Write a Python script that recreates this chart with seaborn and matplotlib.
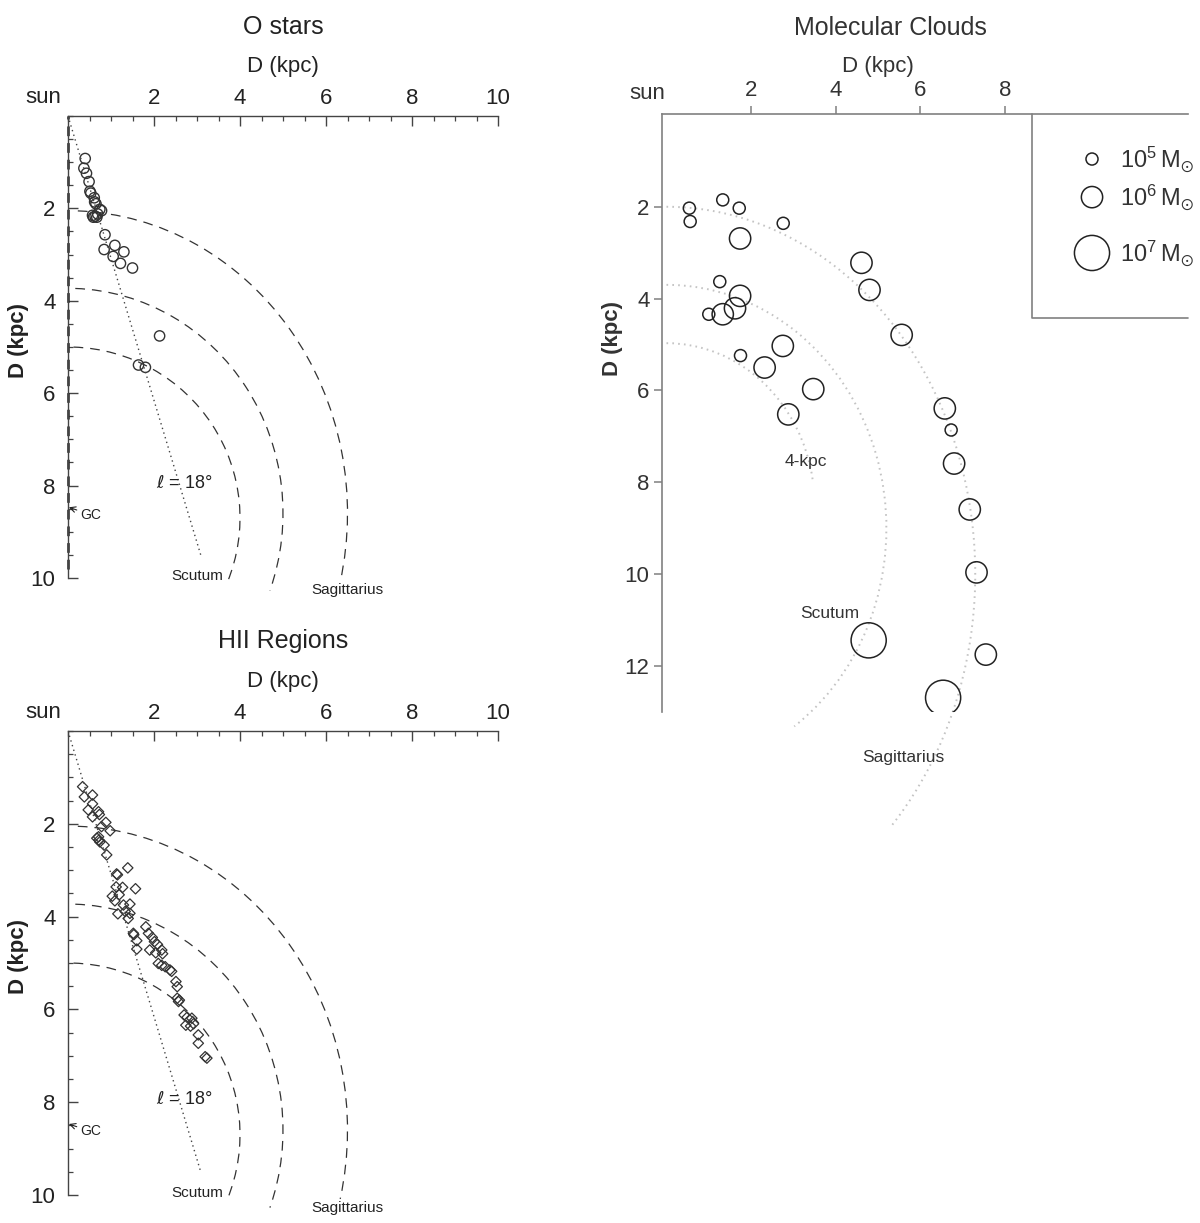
import numpy as np
import pandas as pd
import matplotlib
matplotlib.use('Agg')
import matplotlib.pyplot as plt
from matplotlib.patches import Arc
from matplotlib.ticker import MultipleLocator
import seaborn as sns

# positions (kpc): x = distance projetee, y = distance D
ostar_x = [0.40, 0.37, 0.43, 0.49, 0.51, 0.53, 0.61, 0.65, 0.62, 0.74, 0.78, 0.57, 0.63,
           0.67, 0.59, 0.69, 0.86, 0.84, 1.09, 1.30, 1.05, 1.22, 1.50, 2.13, 1.64, 1.80]
ostar_y = [0.92, 1.13, 1.24, 1.42, 1.63, 1.67, 1.77, 1.90, 1.86, 2.02, 2.05, 2.15, 2.17,
           2.19, 2.19, 2.12, 2.57, 2.89, 2.80, 2.94, 3.04, 3.19, 3.29, 4.76, 5.39, 5.44]

hii_x = [0.34, 0.38, 0.57, 0.57, 0.47, 0.71, 0.73, 0.57, 0.88, 0.78, 0.98, 0.67, 0.72, 0.71,
         0.74, 0.84, 0.90, 1.13, 1.15, 1.39, 1.12, 1.27, 1.57, 1.03, 1.19, 1.09, 1.29, 1.44,
         1.16, 1.33, 1.44, 1.40, 1.52, 1.53, 1.60, 1.60, 1.81, 1.87, 1.96, 2.01, 1.90, 2.08,
         2.18, 2.04, 2.20, 2.10, 2.18, 2.26, 2.37, 2.41, 2.51, 2.54, 2.54, 2.59, 2.57, 2.70,
         2.77, 2.88, 2.74, 2.85, 2.92, 3.03, 3.03, 3.19, 3.23]
hii_y = [1.20, 1.42, 1.38, 1.57, 1.70, 1.74, 1.80, 1.85, 1.97, 2.06, 2.15, 2.31, 2.35, 2.28,
         2.39, 2.46, 2.67, 3.08, 3.10, 2.95, 3.36, 3.37, 3.40, 3.56, 3.53, 3.66, 3.75, 3.73,
         3.94, 3.89, 3.93, 4.04, 4.36, 4.39, 4.52, 4.70, 4.22, 4.36, 4.45, 4.54, 4.72, 4.60,
         4.72, 4.78, 4.80, 5.01, 5.05, 5.08, 5.15, 5.18, 5.40, 5.51, 5.76, 5.80, 5.83, 6.12,
         6.17, 6.19, 6.34, 6.36, 6.31, 6.55, 6.73, 7.02, 7.05]

mc_x = [0.54, 0.56, 1.33, 1.72, 2.76, 1.74, 4.61, 4.80, 5.56, 1.26, 1.74, 1.62, 1.33, 1.00,
        2.75, 1.75, 2.32, 3.47, 2.88, 6.58, 6.73, 6.80, 7.17, 7.33, 4.78, 7.55, 6.54]
mc_y = [2.03, 2.32, 1.85, 2.03, 2.36, 2.69, 3.22, 3.81, 4.79, 3.63, 3.94, 4.21, 4.34, 4.34,
        5.03, 5.24, 5.50, 5.97, 6.52, 6.39, 6.86, 7.59, 8.59, 9.96, 11.44, 11.75, 12.69]
mc_logm = [5, 5, 5, 5, 5, 6, 6, 6, 6, 5, 6, 6, 6, 5,
           6, 5, 6, 6, 6, 6, 5, 6, 6, 6, 7, 6, 7]

legend_logm = [5, 6, 7]
mc_sizes = {5: 75, 6: 235, 7: 640}

# bras spiraux (ellipses centrees sur l'axe x=0): centre y, rx, ry, theta1, theta2
arm_c = [8.7, 8.6, 8.6]
arm_rx = [4.0, 5.0, 6.5]
arm_ry = [3.7, 4.87, 6.55]
arm_t1 = [-88, -88, -88]
arm_t2 = [20.6, 19.6, 13.2]

mc_arm_c = [8.5, 9.0, 10.0]
mc_arm_rx = [3.5, 5.2, 7.3]
mc_arm_ry = [3.53, 5.3, 8.0]
mc_arm_t1 = [-90, -90, -90]
mc_arm_t2 = [-9, 55, 46]

los_l = 18.0
los_d = np.array([0.0, 10.0])

sns.set_style('white')
plt.rcParams['font.family'] = ['Liberation Sans', 'DejaVu Sans']
plt.rcParams['mathtext.default'] = 'regular'
plt.rcParams['lines.scale_dashes'] = False

fig = plt.figure(figsize=(12, 12.23), dpi=100)

dark = '#333333'


def setup_lb_axes(ax, title):
    # axes en haut et a gauche, y inverse
    ax.set_xlim(0, 10)
    ax.set_ylim(10, 0)
    for s in ['right', 'bottom']:
        ax.spines[s].set_visible(False)
    for s in ['left', 'top']:
        ax.spines[s].set_color('#444444')
        ax.spines[s].set_linewidth(1.0)
    ax.xaxis.tick_top()
    ax.set_xticks([2, 4, 6, 8, 10])
    ax.set_yticks([2, 4, 6, 8, 10])
    ax.xaxis.set_minor_locator(MultipleLocator(0.5))
    ax.yaxis.set_minor_locator(MultipleLocator(0.5))
    ax.tick_params(which='both', direction='in', top=True, bottom=False, left=True, right=False,
                   color='#444444', labelcolor='#222222', labelsize=16)
    ax.tick_params(which='major', length=7, width=1.0)
    ax.tick_params(which='minor', length=3.5, width=0.9)
    ax.tick_params(axis='x', pad=5)
    ax.tick_params(axis='y', pad=9)
    ax.text(0.5, 1.193, title, transform=ax.transAxes, ha='center', va='center', fontsize=18, color='#222222')
    ax.text(0.5, 1.107, 'D (kpc)', transform=ax.transAxes, ha='center', va='center', fontsize=16, color='#222222')
    ax.text(-0.15, 1.04, 'sun', transform=ax.get_xaxis_transform(), ha='right', va='center',
            fontsize=16, color='#222222')

    # bras spiraux
    for c, rx, ry, t1, t2 in zip(arm_c, arm_rx, arm_ry, arm_t1, arm_t2):
        ax.add_patch(Arc((0, c), 2 * rx, 2 * ry, theta1=t1, theta2=t2, ls=(0, (7, 5)),
                         lw=0.9, color='#333333', clip_on=False))
    # ligne de visee l = 18 deg
    ax.plot(los_d * np.sin(np.deg2rad(los_l)), los_d * np.cos(np.deg2rad(los_l)),
            ls=(0, (1, 2.5)), lw=1.0, color='#444444')
    ax.text(2.7, 7.95, r'$\mathit{\ell}$ = 18°', ha='center', va='center', fontsize=13, color='#222222')
    ax.text(3.0, 9.95, 'Scutum', ha='center', va='center', fontsize=11, color='#222222')
    ax.text(6.5, 10.27, 'Sagittarius', ha='center', va='center', fontsize=11, color='#222222')
    ax.annotate('GC', xy=(0.02, 8.47), xytext=(0.28, 8.63), ha='left', va='center', fontsize=10,
                color='#222222', arrowprops=dict(arrowstyle='->', lw=0.8, color='#222222',
                                                 shrinkA=0, shrinkB=0))


def finish_labels(ax):
    ax.set_xlabel('')
    ax.set_ylabel('D (kpc)', fontsize=16, fontweight='bold', color='#222222')
    ax.yaxis.set_label_coords(-0.09, 0.514)


# O stars
ax1 = fig.add_axes([68 / 1200, 1 - 578 / 1223, 430 / 1200, 462 / 1223])
setup_lb_axes(ax1, 'O stars')
ax1.axvline(0, ymin=0.02, ymax=1.0, ls=(0, (7, 5)), lw=1.8, color='#222222', clip_on=False)
df_o = pd.DataFrame({'x': ostar_x, 'D': ostar_y})
sns.scatterplot(data=df_o, x='x', y='D', ax=ax1, marker='o', s=55, color=dark,
                facecolor='none', edgecolor=dark, linewidth=1.0)
finish_labels(ax1)

# HII regions
ax2 = fig.add_axes([68 / 1200, 1 - 1195 / 1223, 430 / 1200, 464 / 1223])
setup_lb_axes(ax2, 'HII Regions')
df_h = pd.DataFrame({'x': hii_x, 'D': hii_y})
sns.scatterplot(data=df_h, x='x', y='D', ax=ax2, marker='D', s=28, color=dark,
                facecolor='none', edgecolor=dark, linewidth=0.9)
finish_labels(ax2)

# Molecular clouds
ax3 = fig.add_axes([662 / 1200, 1 - 712 / 1223, 526 / 1200, 598 / 1223])
ax3.set_xlim(-0.106, 12.33)
ax3.set_ylim(13.0, -0.02)
gray = '#808080'
for s in ['right', 'bottom']:
    ax3.spines[s].set_visible(False)
for s in ['left', 'top']:
    ax3.spines[s].set_color(gray)
    ax3.spines[s].set_linewidth(1.2)
ax3.xaxis.tick_top()
ax3.set_xticks([2, 4, 6, 8])
ax3.set_yticks([2, 4, 6, 8, 10, 12])
ax3.tick_params(direction='out', top=True, bottom=False, left=True, right=False, length=6,
                width=1.1, color=gray, labelcolor='#333333', labelsize=16, pad=3)

for c, rx, ry, t1, t2 in zip(mc_arm_c, mc_arm_rx, mc_arm_ry, mc_arm_t1, mc_arm_t2):
    ax3.add_patch(Arc((0, c), 2 * rx, 2 * ry, theta1=t1, theta2=t2, ls=(0, (1.2, 3)),
                      lw=1.4, color='#c4c4c4', clip_on=False))

df_mc = pd.DataFrame({'x': mc_x, 'D': mc_y, 'logM': mc_logm})
sns.scatterplot(data=df_mc, x='x', y='D', size='logM', sizes=mc_sizes, ax=ax3, legend=False,
                marker='o', color='#222222', facecolor='none', edgecolor='#222222', linewidth=1.1)
ax3.set_xlabel('')
ax3.set_ylabel('D (kpc)', fontsize=16, fontweight='bold', color='#333333')
ax3.yaxis.set_label_coords(-0.074, 0.625)

ax3.text(0.435, 1.144, 'Molecular Clouds', transform=ax3.transAxes, ha='center', va='center',
         fontsize=18, color='#333333')
ax3.text(0.41, 1.079, 'D (kpc)', transform=ax3.transAxes, ha='center', va='center',
         fontsize=16, color='#333333')
ax3.text(-0.03, 1.034, 'sun', transform=ax3.get_xaxis_transform(), ha='right', va='center',
         fontsize=16, color='#333333')
ax3.text(3.3, 7.54, '4-kpc', ha='center', va='center', fontsize=12.5, color='#333333')
ax3.text(3.86, 10.85, 'Scutum', ha='center', va='center', fontsize=12.5, color='#333333')
ax3.text(5.6, 13.99, 'Sagittarius', ha='center', va='center', fontsize=12.5, color='#333333',
         clip_on=False)

# legende des masses (cadre gauche + bas)
ax3.plot([0.7034, 0.7034, 1.0], [1.0, 0.6589, 0.6589], transform=ax3.transAxes, color=gray,
         lw=1.2, clip_on=False)
leg_y = [0.9247, 0.861, 0.7676]
for lm, yy in zip(legend_logm, leg_y):
    ax3.scatter([0.8175], [yy], s=mc_sizes[lm], transform=ax3.transAxes, facecolor='none',
                edgecolor='#222222', linewidth=1.1, clip_on=False)
    ax3.text(0.871, yy, r'$10^{%d}\,M_{\odot}$' % lm, transform=ax3.transAxes, ha='left',
             va='center', fontsize=17, color='#333333')

fig.savefig('out.png', dpi=100)
